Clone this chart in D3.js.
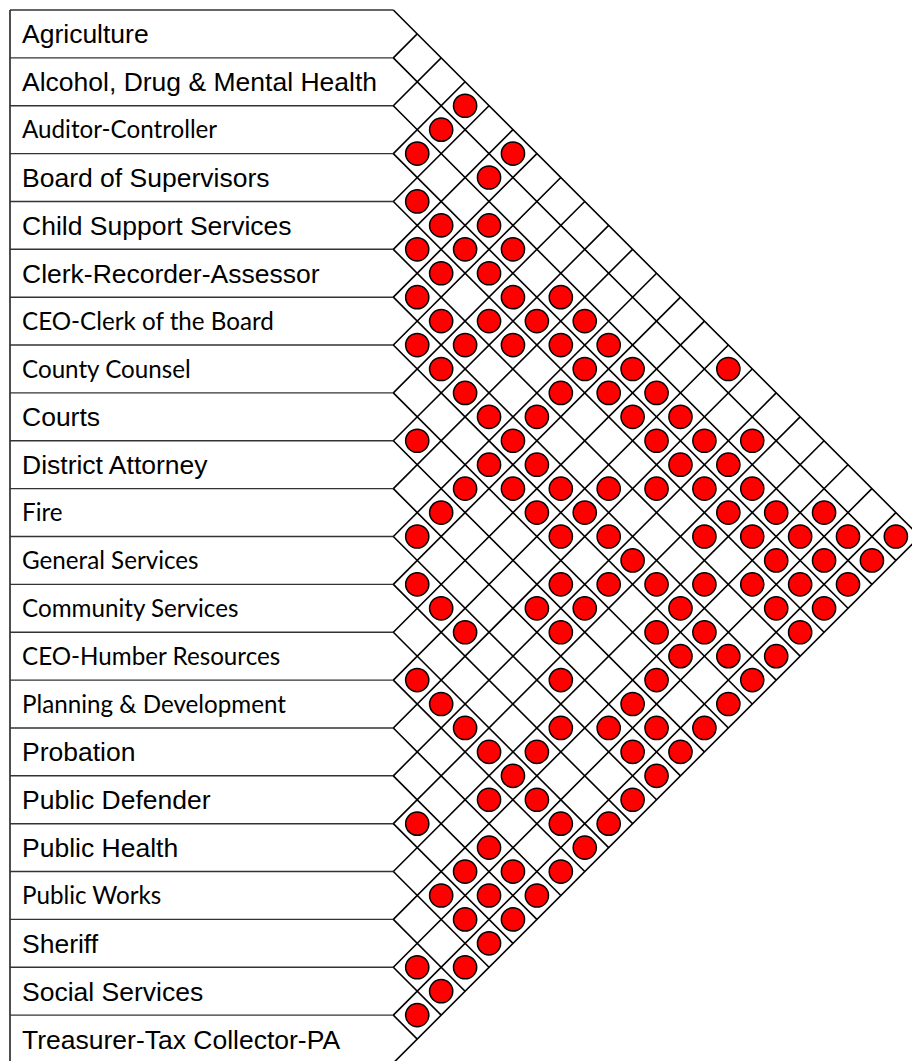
<!DOCTYPE html>
<html>
<head>
<meta charset="utf-8">
<script src="https://cdn.jsdelivr.net/npm/d3@7"></script>
<style>
  body { margin: 0; background: #fff; }
  svg { display: block; }
</style>
</head>
<body>
<div class="container"></div>
<script>
const width = 912;
const height = 1061;

// departments, top to bottom
const departments = [
    "Agriculture",
    "Alcohol, Drug & Mental Health",
    "Auditor-Controller",
    "Board of Supervisors",
    "Child Support Services",
    "Clerk-Recorder-Assessor",
    "CEO-Clerk of the Board",
    "County Counsel",
    "Courts",
    "District Attorney",
    "Fire",
    "General Services",
    "Community Services",
    "CEO-Humber Resources",
    "Planning & Development",
    "Probation",
    "Public Defender",
    "Public Health",
    "Public Works",
    "Sheriff",
    "Social Services",
    "Treasurer-Tax Collector-PA"
];

// labels typed in the second (calibri-ish) face in the original
const altFaceLabels = [
    "Auditor-Controller", "CEO-Clerk of the Board", "County Counsel", "Fire",
    "General Services", "Community Services", "CEO-Humber Resources",
    "Planning & Development", "Public Works"
];

// relationships: [upper row index, lower row index]
const links = [
    [0,3],[0,5],[0,14],[0,21],
    [1,3],[1,5],[1,16],[1,19],[1,20],[1,21],
    [2,3],[2,6],[2,7],[2,9],[2,10],[2,11],[2,12],[2,13],[2,14],[2,15],[2,16],[2,17],[2,18],[2,19],[2,20],[2,21],
    [3,4],[3,5],[3,6],[3,7],[3,8],[3,9],[3,10],[3,11],[3,12],[3,13],[3,14],[3,15],[3,16],[3,17],[3,18],[3,19],[3,20],[3,21],
    [4,5],[4,6],[4,8],[4,9],[4,11],[4,15],[4,17],[4,19],[4,20],[4,21],
    [5,6],[5,7],[5,8],[5,11],[5,14],[5,18],[5,21],
    [6,7],[6,8],[6,9],[6,10],[6,11],[6,12],[6,13],[6,14],[6,15],[6,16],[6,17],[6,18],[6,19],[6,20],[6,21],
    [7,11],[7,12],[7,13],[7,14],[7,16],[7,18],[7,19],[7,21],
    [8,9],[8,11],[8,15],[8,16],[8,19],[8,21],
    [9,11],[9,15],[9,16],[9,19],[9,20],[9,21],
    [10,11],[10,17],[10,19],[10,20],[10,21],
    [11,12],[11,13],[11,14],[11,18],[11,21],
    [12,18],[12,21],
    [13,14],[13,15],[13,16],[13,17],[13,18],[13,19],[13,20],[13,21],
    [14,18],[14,21],
    [15,19],[15,20],[15,21],
    [16,17],[16,19],[16,20],[16,21],
    [17,19],[17,20],[17,21],
    [18,21],
    [19,20],[19,21],
    [20,21]
];

const boxLeft = 10;
const gridLeft = 393.3;

const svg = d3.select(".container")
    .append("svg")
    .attr("width", width)
    .attr("height", height);

const g = svg.append("g");

// row boundaries
const yScale = d3.scaleLinear()
    .domain([0, departments.length])
    .range([10, 1063]);

const yTop = yScale(0);
const yBot = yScale(departments.length);
const bounds = d3.range(departments.length + 1);

// label boxes
g.append("line")
    .attr("x1", boxLeft).attr("x2", boxLeft)
    .attr("y1", yTop).attr("y2", yBot)
    .attr("stroke", "#222").attr("stroke-width", 1.6);

g.selectAll("line.row")
    .data(bounds)
    .enter()
    .append("line")
    .attr("class", "row")
    .attr("x1", boxLeft)
    .attr("x2", gridLeft)
    .attr("y1", d => yScale(d))
    .attr("y2", d => yScale(d))
    .attr("stroke", "#333")
    .attr("stroke-width", 1.4);

g.selectAll("text.label")
    .data(departments)
    .enter()
    .append("text")
    .attr("class", "label")
    .attr("x", 22)
    .attr("y", (d, i) => yScale(i + 0.5))
    .attr("dy", "0.36em")
    .attr("font-family", d => altFaceLabels.includes(d) ? "Lato, 'Open Sans', sans-serif" : "'Liberation Sans', Arial, sans-serif")
    .attr("font-size", d => altFaceLabels.includes(d) ? 24.2 : 26.5)
    .attr("fill", "#000")
    .text(d => d);

// diagonal grid: every boundary sends one line down-right and one up-right
g.selectAll("line.down")
    .data(bounds)
    .enter()
    .append("line")
    .attr("class", "down")
    .attr("x1", gridLeft)
    .attr("y1", d => yScale(d))
    .attr("x2", d => gridLeft + (yBot - yScale(d)) / 2)
    .attr("y2", d => (yBot + yScale(d)) / 2)
    .attr("stroke", "#000")
    .attr("stroke-width", 1.6);

g.selectAll("line.up")
    .data(bounds)
    .enter()
    .append("line")
    .attr("class", "up")
    .attr("x1", gridLeft)
    .attr("y1", d => yScale(d))
    .attr("x2", d => gridLeft + (yScale(d) - yTop) / 2)
    .attr("y2", d => (yTop + yScale(d)) / 2)
    .attr("stroke", "#000")
    .attr("stroke-width", 1.6);

// dots
g.selectAll("circle")
    .data(links)
    .enter()
    .append("circle")
    .attr("cx", d => gridLeft + (yScale(d[1]) - yScale(d[0])) / 2)
    .attr("cy", d => (yScale(d[0] + 0.5) + yScale(d[1] + 0.5)) / 2)
    .attr("r", 11.6)
    .attr("fill", "#ff0000")
    .attr("stroke", "#000")
    .attr("stroke-width", 1.5);
</script>
</body>
</html>
